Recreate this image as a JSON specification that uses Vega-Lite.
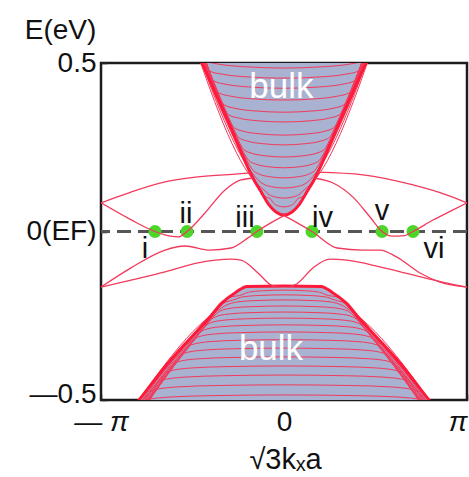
{
  "$schema": "https://vega.github.io/schema/vega-lite/v6.json",
  "width": 366,
  "height": 337,
  "autosize": {"type": "none"},
  "padding": {"left": 101, "top": 63, "right": 2, "bottom": 77},
  "background": "white",
  "config": {
    "view": {"stroke": "#1c1c1c", "strokeWidth": 2.5},
    "font": "Liberation Sans"
  },
  "datasets": {
    "cedge": [
      {"k": -0.52, "e": 0.588}, {"k": -0.448, "e": 0.5}, {"k": -0.3, "e": 0.32}, {"k": -0.158, "e": 0.147},
      {"k": -0.131, "e": 0.123}, {"k": -0.082, "e": 0.079}, {"k": -0.044, "e": 0.058}, {"k": 0, "e": 0.049},
      {"k": 0.044, "e": 0.058}, {"k": 0.082, "e": 0.079}, {"k": 0.131, "e": 0.123}, {"k": 0.158, "e": 0.147},
      {"k": 0.3, "e": 0.32}, {"k": 0.448, "e": 0.5}, {"k": 0.52, "e": 0.588}
    ],
    "vedge": [
      {"k": -0.9, "e": -0.57}, {"k": -0.792, "e": -0.5}, {"k": -0.656, "e": -0.405}, {"k": -0.546, "e": -0.337},
      {"k": -0.41, "e": -0.257}, {"k": -0.339, "e": -0.212}, {"k": -0.262, "e": -0.18}, {"k": -0.202, "e": -0.163},
      {"k": 0, "e": -0.162},
      {"k": 0.202, "e": -0.163}, {"k": 0.262, "e": -0.18}, {"k": 0.339, "e": -0.212}, {"k": 0.41, "e": -0.257},
      {"k": 0.546, "e": -0.337}, {"k": 0.656, "e": -0.405}, {"k": 0.792, "e": -0.5}, {"k": 0.9, "e": -0.57}
    ],
    "cb": [
      {"b": "c1", "k": -0.52, "e": 0.595}, {"b": "c1", "k": -0.158, "e": 0.151}, {"b": "c1", "k": -0.111, "e": 0.107}, {"b": "c1", "k": -0.071, "e": 0.095}, {"b": "c1", "k": -0.057, "e": 0.084}, {"b": "c1", "k": -0.036, "e": 0.077}, {"b": "c1", "k": 0, "e": 0.073}, {"b": "c1", "k": 0.036, "e": 0.077}, {"b": "c1", "k": 0.057, "e": 0.084}, {"b": "c1", "k": 0.071, "e": 0.095}, {"b": "c1", "k": 0.111, "e": 0.107}, {"b": "c1", "k": 0.158, "e": 0.151}, {"b": "c1", "k": 0.52, "e": 0.595},
      {"b": "c2", "k": -0.52, "e": 0.602}, {"b": "c2", "k": -0.144, "e": 0.139}, {"b": "c2", "k": -0.104, "e": 0.121}, {"b": "c2", "k": -0.083, "e": 0.11}, {"b": "c2", "k": -0.052, "e": 0.103}, {"b": "c2", "k": 0, "e": 0.099}, {"b": "c2", "k": 0.052, "e": 0.103}, {"b": "c2", "k": 0.083, "e": 0.11}, {"b": "c2", "k": 0.104, "e": 0.121}, {"b": "c2", "k": 0.144, "e": 0.139}, {"b": "c2", "k": 0.52, "e": 0.602},
      {"b": "c3", "k": -0.52, "e": 0.609}, {"b": "c3", "k": -0.178, "e": 0.177}, {"b": "c3", "k": -0.138, "e": 0.151}, {"b": "c3", "k": -0.11, "e": 0.14}, {"b": "c3", "k": -0.069, "e": 0.133}, {"b": "c3", "k": 0, "e": 0.129}, {"b": "c3", "k": 0.069, "e": 0.133}, {"b": "c3", "k": 0.11, "e": 0.14}, {"b": "c3", "k": 0.138, "e": 0.151}, {"b": "c3", "k": 0.178, "e": 0.177}, {"b": "c3", "k": 0.52, "e": 0.609},
      {"b": "c4", "k": -0.52, "e": 0.616}, {"b": "c4", "k": -0.208, "e": 0.216}, {"b": "c4", "k": -0.168, "e": 0.181}, {"b": "c4", "k": -0.134, "e": 0.17}, {"b": "c4", "k": -0.084, "e": 0.163}, {"b": "c4", "k": 0, "e": 0.159}, {"b": "c4", "k": 0.084, "e": 0.163}, {"b": "c4", "k": 0.134, "e": 0.17}, {"b": "c4", "k": 0.168, "e": 0.181}, {"b": "c4", "k": 0.208, "e": 0.216}, {"b": "c4", "k": 0.52, "e": 0.616},
      {"b": "c5", "k": -0.52, "e": 0.623}, {"b": "c5", "k": -0.233, "e": 0.248}, {"b": "c5", "k": -0.193, "e": 0.211}, {"b": "c5", "k": -0.154, "e": 0.2}, {"b": "c5", "k": -0.097, "e": 0.193}, {"b": "c5", "k": 0, "e": 0.189}, {"b": "c5", "k": 0.097, "e": 0.193}, {"b": "c5", "k": 0.154, "e": 0.2}, {"b": "c5", "k": 0.193, "e": 0.211}, {"b": "c5", "k": 0.233, "e": 0.248}, {"b": "c5", "k": 0.52, "e": 0.623},
      {"b": "c6", "k": -0.52, "e": 0.63}, {"b": "c6", "k": -0.259, "e": 0.282}, {"b": "c6", "k": -0.219, "e": 0.243}, {"b": "c6", "k": -0.175, "e": 0.232}, {"b": "c6", "k": -0.11, "e": 0.225}, {"b": "c6", "k": 0, "e": 0.221}, {"b": "c6", "k": 0.11, "e": 0.225}, {"b": "c6", "k": 0.175, "e": 0.232}, {"b": "c6", "k": 0.219, "e": 0.243}, {"b": "c6", "k": 0.259, "e": 0.282}, {"b": "c6", "k": 0.52, "e": 0.63},
      {"b": "c7", "k": -0.52, "e": 0.637}, {"b": "c7", "k": -0.288, "e": 0.319}, {"b": "c7", "k": -0.248, "e": 0.279}, {"b": "c7", "k": -0.198, "e": 0.268}, {"b": "c7", "k": -0.124, "e": 0.261}, {"b": "c7", "k": 0, "e": 0.257}, {"b": "c7", "k": 0.124, "e": 0.261}, {"b": "c7", "k": 0.198, "e": 0.268}, {"b": "c7", "k": 0.248, "e": 0.279}, {"b": "c7", "k": 0.288, "e": 0.319}, {"b": "c7", "k": 0.52, "e": 0.637},
      {"b": "c8", "k": -0.52, "e": 0.644}, {"b": "c8", "k": -0.312, "e": 0.35}, {"b": "c8", "k": -0.272, "e": 0.308}, {"b": "c8", "k": -0.218, "e": 0.297}, {"b": "c8", "k": -0.136, "e": 0.29}, {"b": "c8", "k": 0, "e": 0.286}, {"b": "c8", "k": 0.136, "e": 0.29}, {"b": "c8", "k": 0.218, "e": 0.297}, {"b": "c8", "k": 0.272, "e": 0.308}, {"b": "c8", "k": 0.312, "e": 0.35}, {"b": "c8", "k": 0.52, "e": 0.644},
      {"b": "c9", "k": -0.52, "e": 0.651}, {"b": "c9", "k": -0.344, "e": 0.391}, {"b": "c9", "k": -0.304, "e": 0.347}, {"b": "c9", "k": -0.243, "e": 0.336}, {"b": "c9", "k": -0.152, "e": 0.329}, {"b": "c9", "k": 0, "e": 0.325}, {"b": "c9", "k": 0.152, "e": 0.329}, {"b": "c9", "k": 0.243, "e": 0.336}, {"b": "c9", "k": 0.304, "e": 0.347}, {"b": "c9", "k": 0.344, "e": 0.391}, {"b": "c9", "k": 0.52, "e": 0.651},
      {"b": "c10", "k": -0.52, "e": 0.658}, {"b": "c10", "k": -0.368, "e": 0.423}, {"b": "c10", "k": -0.328, "e": 0.376}, {"b": "c10", "k": -0.262, "e": 0.365}, {"b": "c10", "k": -0.164, "e": 0.358}, {"b": "c10", "k": 0, "e": 0.354}, {"b": "c10", "k": 0.164, "e": 0.358}, {"b": "c10", "k": 0.262, "e": 0.365}, {"b": "c10", "k": 0.328, "e": 0.376}, {"b": "c10", "k": 0.368, "e": 0.423}, {"b": "c10", "k": 0.52, "e": 0.658},
      {"b": "c11", "k": -0.52, "e": 0.665}, {"b": "c11", "k": -0.398, "e": 0.461}, {"b": "c11", "k": -0.358, "e": 0.412}, {"b": "c11", "k": -0.286, "e": 0.401}, {"b": "c11", "k": -0.179, "e": 0.394}, {"b": "c11", "k": 0, "e": 0.39}, {"b": "c11", "k": 0.179, "e": 0.394}, {"b": "c11", "k": 0.286, "e": 0.401}, {"b": "c11", "k": 0.358, "e": 0.412}, {"b": "c11", "k": 0.398, "e": 0.461}, {"b": "c11", "k": 0.52, "e": 0.665},
      {"b": "c12", "k": -0.52, "e": 0.672}, {"b": "c12", "k": -0.426, "e": 0.497}, {"b": "c12", "k": -0.386, "e": 0.447}, {"b": "c12", "k": -0.309, "e": 0.436}, {"b": "c12", "k": -0.193, "e": 0.429}, {"b": "c12", "k": 0, "e": 0.425}, {"b": "c12", "k": 0.193, "e": 0.429}, {"b": "c12", "k": 0.309, "e": 0.436}, {"b": "c12", "k": 0.386, "e": 0.447}, {"b": "c12", "k": 0.426, "e": 0.497}, {"b": "c12", "k": 0.52, "e": 0.672},
      {"b": "c13", "k": -0.52, "e": 0.679}, {"b": "c13", "k": -0.451, "e": 0.53}, {"b": "c13", "k": -0.411, "e": 0.477}, {"b": "c13", "k": -0.329, "e": 0.466}, {"b": "c13", "k": -0.206, "e": 0.459}, {"b": "c13", "k": 0, "e": 0.455}, {"b": "c13", "k": 0.206, "e": 0.459}, {"b": "c13", "k": 0.329, "e": 0.466}, {"b": "c13", "k": 0.411, "e": 0.477}, {"b": "c13", "k": 0.451, "e": 0.53}, {"b": "c13", "k": 0.52, "e": 0.679},
      {"b": "c14", "k": -0.52, "e": 0.686}, {"b": "c14", "k": -0.476, "e": 0.562}, {"b": "c14", "k": -0.436, "e": 0.507}, {"b": "c14", "k": -0.349, "e": 0.496}, {"b": "c14", "k": -0.218, "e": 0.489}, {"b": "c14", "k": 0, "e": 0.485}, {"b": "c14", "k": 0.218, "e": 0.489}, {"b": "c14", "k": 0.349, "e": 0.496}, {"b": "c14", "k": 0.436, "e": 0.507}, {"b": "c14", "k": 0.476, "e": 0.562}, {"b": "c14", "k": 0.52, "e": 0.686}
    ],
    "vb": [
      {"b": "v1", "k": -0.9, "e": -0.576}, {"b": "v1", "k": -0.41, "e": -0.261}, {"b": "v1", "k": -0.291, "e": -0.194}, {"b": "v1", "k": -0.241, "e": -0.19}, {"b": "v1", "k": -0.193, "e": -0.18}, {"b": "v1", "k": -0.121, "e": -0.176}, {"b": "v1", "k": 0, "e": -0.174}, {"b": "v1", "k": 0.121, "e": -0.176}, {"b": "v1", "k": 0.193, "e": -0.18}, {"b": "v1", "k": 0.241, "e": -0.19}, {"b": "v1", "k": 0.291, "e": -0.194}, {"b": "v1", "k": 0.41, "e": -0.261}, {"b": "v1", "k": 0.9, "e": -0.576},
      {"b": "v2", "k": -0.9, "e": -0.582}, {"b": "v2", "k": -0.41, "e": -0.265}, {"b": "v2", "k": -0.331, "e": -0.213}, {"b": "v2", "k": -0.281, "e": -0.204}, {"b": "v2", "k": -0.225, "e": -0.194}, {"b": "v2", "k": -0.141, "e": -0.19}, {"b": "v2", "k": 0, "e": -0.188}, {"b": "v2", "k": 0.141, "e": -0.19}, {"b": "v2", "k": 0.225, "e": -0.194}, {"b": "v2", "k": 0.281, "e": -0.204}, {"b": "v2", "k": 0.331, "e": -0.213}, {"b": "v2", "k": 0.41, "e": -0.265}, {"b": "v2", "k": 0.9, "e": -0.582},
      {"b": "v3", "k": -0.9, "e": -0.588}, {"b": "v3", "k": -0.367, "e": -0.236}, {"b": "v3", "k": -0.317, "e": -0.219}, {"b": "v3", "k": -0.254, "e": -0.209}, {"b": "v3", "k": -0.159, "e": -0.205}, {"b": "v3", "k": 0, "e": -0.203}, {"b": "v3", "k": 0.159, "e": -0.205}, {"b": "v3", "k": 0.254, "e": -0.209}, {"b": "v3", "k": 0.317, "e": -0.219}, {"b": "v3", "k": 0.367, "e": -0.236}, {"b": "v3", "k": 0.9, "e": -0.588},
      {"b": "v4", "k": -0.9, "e": -0.594}, {"b": "v4", "k": -0.403, "e": -0.261}, {"b": "v4", "k": -0.353, "e": -0.237}, {"b": "v4", "k": -0.282, "e": -0.227}, {"b": "v4", "k": -0.177, "e": -0.223}, {"b": "v4", "k": 0, "e": -0.221}, {"b": "v4", "k": 0.177, "e": -0.223}, {"b": "v4", "k": 0.282, "e": -0.227}, {"b": "v4", "k": 0.353, "e": -0.237}, {"b": "v4", "k": 0.403, "e": -0.261}, {"b": "v4", "k": 0.9, "e": -0.594},
      {"b": "v5", "k": -0.9, "e": -0.6}, {"b": "v5", "k": -0.432, "e": -0.281}, {"b": "v5", "k": -0.382, "e": -0.255}, {"b": "v5", "k": -0.306, "e": -0.245}, {"b": "v5", "k": -0.191, "e": -0.241}, {"b": "v5", "k": 0, "e": -0.239}, {"b": "v5", "k": 0.191, "e": -0.241}, {"b": "v5", "k": 0.306, "e": -0.245}, {"b": "v5", "k": 0.382, "e": -0.255}, {"b": "v5", "k": 0.432, "e": -0.281}, {"b": "v5", "k": 0.9, "e": -0.6},
      {"b": "v6", "k": -0.9, "e": -0.606}, {"b": "v6", "k": -0.46, "e": -0.301}, {"b": "v6", "k": -0.41, "e": -0.273}, {"b": "v6", "k": -0.328, "e": -0.263}, {"b": "v6", "k": -0.205, "e": -0.259}, {"b": "v6", "k": 0, "e": -0.257}, {"b": "v6", "k": 0.205, "e": -0.259}, {"b": "v6", "k": 0.328, "e": -0.263}, {"b": "v6", "k": 0.41, "e": -0.273}, {"b": "v6", "k": 0.46, "e": -0.301}, {"b": "v6", "k": 0.9, "e": -0.606},
      {"b": "v7", "k": -0.9, "e": -0.612}, {"b": "v7", "k": -0.491, "e": -0.323}, {"b": "v7", "k": -0.441, "e": -0.293}, {"b": "v7", "k": -0.353, "e": -0.283}, {"b": "v7", "k": -0.221, "e": -0.279}, {"b": "v7", "k": 0, "e": -0.277}, {"b": "v7", "k": 0.221, "e": -0.279}, {"b": "v7", "k": 0.353, "e": -0.283}, {"b": "v7", "k": 0.441, "e": -0.293}, {"b": "v7", "k": 0.491, "e": -0.323}, {"b": "v7", "k": 0.9, "e": -0.612},
      {"b": "v8", "k": -0.9, "e": -0.618}, {"b": "v8", "k": -0.524, "e": -0.346}, {"b": "v8", "k": -0.474, "e": -0.314}, {"b": "v8", "k": -0.379, "e": -0.304}, {"b": "v8", "k": -0.237, "e": -0.3}, {"b": "v8", "k": 0, "e": -0.298}, {"b": "v8", "k": 0.237, "e": -0.3}, {"b": "v8", "k": 0.379, "e": -0.304}, {"b": "v8", "k": 0.474, "e": -0.314}, {"b": "v8", "k": 0.524, "e": -0.346}, {"b": "v8", "k": 0.9, "e": -0.618},
      {"b": "v9", "k": -0.9, "e": -0.624}, {"b": "v9", "k": -0.561, "e": -0.371}, {"b": "v9", "k": -0.511, "e": -0.337}, {"b": "v9", "k": -0.409, "e": -0.327}, {"b": "v9", "k": -0.256, "e": -0.323}, {"b": "v9", "k": 0, "e": -0.321}, {"b": "v9", "k": 0.256, "e": -0.323}, {"b": "v9", "k": 0.409, "e": -0.327}, {"b": "v9", "k": 0.511, "e": -0.337}, {"b": "v9", "k": 0.561, "e": -0.371}, {"b": "v9", "k": 0.9, "e": -0.624},
      {"b": "v10", "k": -0.9, "e": -0.63}, {"b": "v10", "k": -0.6, "e": -0.398}, {"b": "v10", "k": -0.55, "e": -0.362}, {"b": "v10", "k": -0.44, "e": -0.352}, {"b": "v10", "k": -0.275, "e": -0.348}, {"b": "v10", "k": 0, "e": -0.346}, {"b": "v10", "k": 0.275, "e": -0.348}, {"b": "v10", "k": 0.44, "e": -0.352}, {"b": "v10", "k": 0.55, "e": -0.362}, {"b": "v10", "k": 0.6, "e": -0.398}, {"b": "v10", "k": 0.9, "e": -0.63},
      {"b": "v11", "k": -0.9, "e": -0.636}, {"b": "v11", "k": -0.641, "e": -0.426}, {"b": "v11", "k": -0.591, "e": -0.388}, {"b": "v11", "k": -0.473, "e": -0.378}, {"b": "v11", "k": -0.296, "e": -0.374}, {"b": "v11", "k": 0, "e": -0.372}, {"b": "v11", "k": 0.296, "e": -0.374}, {"b": "v11", "k": 0.473, "e": -0.378}, {"b": "v11", "k": 0.591, "e": -0.388}, {"b": "v11", "k": 0.641, "e": -0.426}, {"b": "v11", "k": 0.9, "e": -0.636},
      {"b": "v12", "k": -0.9, "e": -0.642}, {"b": "v12", "k": -0.683, "e": -0.455}, {"b": "v12", "k": -0.633, "e": -0.415}, {"b": "v12", "k": -0.506, "e": -0.405}, {"b": "v12", "k": -0.317, "e": -0.401}, {"b": "v12", "k": 0, "e": -0.399}, {"b": "v12", "k": 0.317, "e": -0.401}, {"b": "v12", "k": 0.506, "e": -0.405}, {"b": "v12", "k": 0.633, "e": -0.415}, {"b": "v12", "k": 0.683, "e": -0.455}, {"b": "v12", "k": 0.9, "e": -0.642},
      {"b": "v13", "k": -0.9, "e": -0.648}, {"b": "v13", "k": -0.726, "e": -0.484}, {"b": "v13", "k": -0.676, "e": -0.442}, {"b": "v13", "k": -0.541, "e": -0.432}, {"b": "v13", "k": -0.338, "e": -0.428}, {"b": "v13", "k": 0, "e": -0.426}, {"b": "v13", "k": 0.338, "e": -0.428}, {"b": "v13", "k": 0.541, "e": -0.432}, {"b": "v13", "k": 0.676, "e": -0.442}, {"b": "v13", "k": 0.726, "e": -0.484}, {"b": "v13", "k": 0.9, "e": -0.648},
      {"b": "v14", "k": -0.9, "e": -0.654}, {"b": "v14", "k": -0.771, "e": -0.515}, {"b": "v14", "k": -0.721, "e": -0.471}, {"b": "v14", "k": -0.577, "e": -0.461}, {"b": "v14", "k": -0.361, "e": -0.457}, {"b": "v14", "k": 0, "e": -0.455}, {"b": "v14", "k": 0.361, "e": -0.457}, {"b": "v14", "k": 0.577, "e": -0.461}, {"b": "v14", "k": 0.721, "e": -0.471}, {"b": "v14", "k": 0.771, "e": -0.515}, {"b": "v14", "k": 0.9, "e": -0.654},
      {"b": "v15", "k": -0.9, "e": -0.66}, {"b": "v15", "k": -0.818, "e": -0.547}, {"b": "v15", "k": -0.768, "e": -0.501}, {"b": "v15", "k": -0.614, "e": -0.491}, {"b": "v15", "k": -0.384, "e": -0.487}, {"b": "v15", "k": 0, "e": -0.485}, {"b": "v15", "k": 0.384, "e": -0.487}, {"b": "v15", "k": 0.614, "e": -0.491}, {"b": "v15", "k": 0.768, "e": -0.501}, {"b": "v15", "k": 0.818, "e": -0.547}, {"b": "v15", "k": 0.9, "e": -0.66}
    ],
    "surface": [
      {"b": "L1", "k": -1, "e": 0.085}, {"b": "L1", "k": -0.836, "e": 0.117}, {"b": "L1", "k": -0.65, "e": 0.147}, {"b": "L1", "k": -0.47, "e": 0.162}, {"b": "L1", "k": -0.251, "e": 0.171}, {"b": "L1", "k": -0.18, "e": 0.174},
      {"b": "R1", "k": 0.182, "e": 0.176}, {"b": "R1", "k": 0.432, "e": 0.168}, {"b": "R1", "k": 0.705, "e": 0.138}, {"b": "R1", "k": 0.891, "e": 0.108}, {"b": "R1", "k": 1, "e": 0.085},
      {"b": "L2", "k": -1, "e": 0.085}, {"b": "L2", "k": -0.84, "e": 0.036}, {"b": "L2", "k": -0.705, "e": 0.0}, {"b": "L2", "k": -0.62, "e": -0.014}, {"b": "L2", "k": -0.578, "e": -0.016}, {"b": "L2", "k": -0.53, "e": 0.0}, {"b": "L2", "k": -0.432, "e": 0.055}, {"b": "L2", "k": -0.322, "e": 0.123}, {"b": "L2", "k": -0.235, "e": 0.153}, {"b": "L2", "k": -0.17, "e": 0.158},
      {"b": "R2", "k": 0.17, "e": 0.158}, {"b": "R2", "k": 0.268, "e": 0.144}, {"b": "R2", "k": 0.377, "e": 0.102}, {"b": "R2", "k": 0.47, "e": 0.043}, {"b": "R2", "k": 0.536, "e": 0.0}, {"b": "R2", "k": 0.59, "e": -0.014}, {"b": "R2", "k": 0.66, "e": -0.012}, {"b": "R2", "k": 0.705, "e": 0.0}, {"b": "R2", "k": 0.814, "e": 0.034}, {"b": "R2", "k": 0.924, "e": 0.064}, {"b": "R2", "k": 1, "e": 0.085},
      {"b": "L3", "k": -1, "e": -0.165}, {"b": "L3", "k": -0.836, "e": -0.108}, {"b": "L3", "k": -0.65, "e": -0.055}, {"b": "L3", "k": -0.541, "e": -0.043}, {"b": "L3", "k": -0.404, "e": -0.055}, {"b": "L3", "k": -0.29, "e": -0.049}, {"b": "L3", "k": -0.197, "e": -0.019}, {"b": "L3", "k": -0.148, "e": 0.0}, {"b": "L3", "k": -0.077, "e": 0.024}, {"b": "L3", "k": 0, "e": 0.047},
      {"b": "R3", "k": 0, "e": 0.047}, {"b": "R3", "k": 0.075, "e": 0.025}, {"b": "R3", "k": 0.153, "e": 0.0}, {"b": "R3", "k": 0.29, "e": -0.049}, {"b": "R3", "k": 0.432, "e": -0.055}, {"b": "R3", "k": 0.525, "e": -0.055}, {"b": "R3", "k": 0.617, "e": -0.076}, {"b": "R3", "k": 0.743, "e": -0.123}, {"b": "R3", "k": 0.852, "e": -0.15}, {"b": "R3", "k": 1, "e": -0.165},
      {"b": "L4", "k": -1, "e": -0.165}, {"b": "L4", "k": -0.836, "e": -0.144}, {"b": "L4", "k": -0.65, "e": -0.12}, {"b": "L4", "k": -0.47, "e": -0.093}, {"b": "L4", "k": -0.29, "e": -0.082}, {"b": "L4", "k": -0.235, "e": -0.085}, {"b": "L4", "k": -0.142, "e": -0.123}, {"b": "L4", "k": -0.071, "e": -0.159}, {"b": "L4", "k": -0.03, "e": -0.165},
      {"b": "R4", "k": 0.03, "e": -0.165}, {"b": "R4", "k": 0.071, "e": -0.155}, {"b": "R4", "k": 0.158, "e": -0.108}, {"b": "R4", "k": 0.251, "e": -0.082}, {"b": "R4", "k": 0.344, "e": -0.085}, {"b": "R4", "k": 0.525, "e": -0.105}, {"b": "R4", "k": 0.705, "e": -0.129}, {"b": "R4", "k": 0.891, "e": -0.153}, {"b": "R4", "k": 1, "e": -0.165}
    ],
    "crossings": [
      {"k": -0.705, "e": 0, "t": "i", "lk": -0.76, "le": -0.078},
      {"k": -0.53, "e": 0, "t": "ii", "lk": -0.536, "le": 0.025},
      {"k": -0.148, "e": 0, "t": "iii", "lk": -0.213, "le": 0.013},
      {"k": 0.153, "e": 0, "t": "iv", "lk": 0.21, "le": 0.013},
      {"k": 0.536, "e": 0, "t": "v", "lk": 0.536, "le": 0.034},
      {"k": 0.705, "e": 0, "t": "vi", "lk": 0.82, "le": -0.078}
    ],
    "regions": [
      {"k": -0.014, "e": 0.396, "t": "bulk"},
      {"k": -0.071, "e": -0.381, "t": "bulk"}
    ]
  },
  "resolve": {"scale": {"x": "shared", "y": "shared"}, "axis": {"x": "independent", "y": "independent"}},
  "layer": [
    {
      "data": {"name": "cedge"},
      "mark": {"type": "area", "color": "#a9b2d0", "interpolate": "monotone", "clip": true},
      "encoding": {
        "x": {
          "field": "k", "type": "quantitative",
          "scale": {"domain": [-1, 1], "nice": false, "zero": false},
          "axis": {
            "orient": "bottom", "values": [-1, 0, 1],
            "labelExpr": "datum.value == 0 ? '0' : (datum.value < 0 ? '— π' : 'π')",
            "grid": false, "domain": false,
            "tickSize": -6, "tickWidth": 1.5, "tickColor": "#222",
            "labelPadding": 14, "labelFontSize": 28, "labelColor": "#111", "labelFont": "Liberation Sans",
            "labelAlign": {"condition": {"test": "datum.value == 1", "value": "right"}, "value": "center"},
            "labelFontStyle": {"condition": {"test": "datum.value == 0", "value": "normal"}, "value": "italic"},
            "title": "√3kₓa", "titleFontSize": 29, "titleFontWeight": "normal", "titleColor": "#111",
            "titleFont": "Liberation Sans", "titleX": 184, "titleY": 68, "titleAlign": "center", "titleBaseline": "alphabetic"
          }
        },
        "y": {
          "field": "e", "type": "quantitative",
          "scale": {"domain": [-0.5, 0.5], "nice": false, "zero": false},
          "axis": {
            "orient": "left", "values": [-0.5, 0, 0.5],
            "labelExpr": "datum.value == 0 ? '0(EF)' : (datum.value > 0 ? '0.5' : '—0.5')",
            "grid": false, "domain": false,
            "tickSize": -6, "tickWidth": 1.5, "tickColor": "#222",
            "labelPadding": 11, "labelFontSize": 28, "labelColor": "#111", "labelFont": "Liberation Sans",
            "labelBaseline": "middle",
            "labelOffset": {"condition": {"test": "datum.value == -0.5", "value": -6}, "value": 0},
            "title": "E(eV)", "titleAngle": 0, "titleFontSize": 28, "titleFontWeight": "normal", "titleColor": "#111",
            "titleFont": "Liberation Sans", "titleX": -41, "titleY": -33, "titleAlign": "center", "titleBaseline": "middle"
          }
        },
        "y2": {"datum": 0.6}
      }
    },
    {
      "data": {"name": "vedge"},
      "mark": {"type": "area", "color": "#a9b2d0", "interpolate": "monotone", "clip": true},
      "encoding": {
        "x": {"field": "k", "type": "quantitative", "axis": {"orient": "top", "values": [0], "labels": false, "title": null, "grid": false, "domain": false, "tickSize": -6, "tickWidth": 1.5, "tickColor": "#222"}},
        "y": {"field": "e", "type": "quantitative", "axis": null},
        "y2": {"datum": -0.6}
      }
    },
    {
      "data": {"name": "cb"},
      "mark": {"type": "line", "color": "#f23a5c", "strokeWidth": 1, "interpolate": "monotone", "clip": true},
      "encoding": {
        "x": {"field": "k", "type": "quantitative", "axis": null},
        "y": {"field": "e", "type": "quantitative", "axis": null},
        "detail": {"field": "b", "type": "nominal"}
      }
    },
    {
      "data": {"name": "vb"},
      "mark": {"type": "line", "color": "#f23a5c", "strokeWidth": 1, "interpolate": "monotone", "clip": true},
      "encoding": {
        "x": {"field": "k", "type": "quantitative", "axis": null},
        "y": {"field": "e", "type": "quantitative", "axis": null},
        "detail": {"field": "b", "type": "nominal"}
      }
    },
    {
      "data": {"name": "cedge"},
      "mark": {"type": "line", "color": "#ff1a3a", "strokeWidth": 3, "interpolate": "monotone", "clip": true},
      "encoding": {
        "x": {"field": "k", "type": "quantitative", "axis": null},
        "y": {"field": "e", "type": "quantitative", "axis": null}
      }
    },
    {
      "data": {"name": "vedge"},
      "mark": {"type": "line", "color": "#ff1a3a", "strokeWidth": 3, "interpolate": "monotone", "clip": true},
      "encoding": {
        "x": {"field": "k", "type": "quantitative", "axis": null},
        "y": {"field": "e", "type": "quantitative", "axis": null}
      }
    },
    {
      "data": {"name": "crossings"},
      "mark": {"type": "rule", "color": "#555555", "strokeWidth": 2, "strokeDash": [14, 7]},
      "encoding": {"y": {"datum": 0, "type": "quantitative", "axis": null}}
    },
    {
      "data": {"name": "crossings"},
      "mark": {"type": "point", "filled": true, "color": "#4cd62a", "size": 170, "opacity": 1},
      "encoding": {
        "x": {"field": "k", "type": "quantitative", "axis": null},
        "y": {"field": "e", "type": "quantitative", "axis": null}
      }
    },
    {
      "data": {"name": "surface"},
      "mark": {"type": "line", "color": "#f23a5c", "strokeWidth": 1.3, "interpolate": "monotone", "clip": true},
      "encoding": {
        "x": {"field": "k", "type": "quantitative", "axis": null},
        "y": {"field": "e", "type": "quantitative", "axis": null},
        "detail": {"field": "b", "type": "nominal"}
      }
    },
    {
      "data": {"name": "crossings"},
      "mark": {"type": "text", "fontSize": 29, "font": "Liberation Sans", "color": "#111", "align": "center", "baseline": "alphabetic"},
      "encoding": {
        "x": {"field": "lk", "type": "quantitative", "axis": null},
        "y": {"field": "le", "type": "quantitative", "axis": null},
        "text": {"field": "t"}
      }
    },
    {
      "data": {"name": "regions"},
      "mark": {"type": "text", "fontSize": 35, "font": "Liberation Sans", "color": "white", "align": "center", "baseline": "alphabetic"},
      "encoding": {
        "x": {"field": "k", "type": "quantitative", "axis": null},
        "y": {"field": "e", "type": "quantitative", "axis": null},
        "text": {"field": "t"}
      }
    }
  ]
}
